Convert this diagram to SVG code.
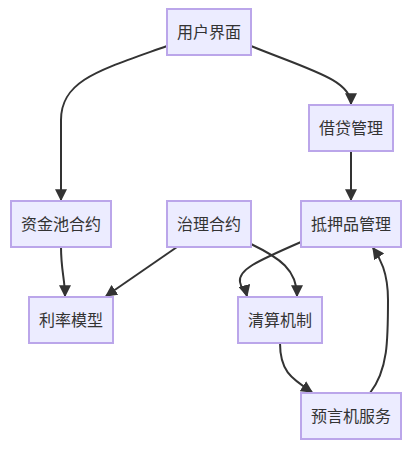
<svg xmlns="http://www.w3.org/2000/svg" width="413" height="458" viewBox="0 0 413 458">
<style>
.node rect{fill:#ECECFF;stroke:#BBA6EA;stroke-width:2}
.node text{font-family:"Liberation Sans","Noto Sans CJK SC",sans-serif;font-size:16px;fill:#333;text-anchor:middle;dominant-baseline:central}
.edges path{fill:none;stroke:#333;stroke-width:2}
</style>
<defs>
<marker id="arrow" viewBox="0 0 10 10" refX="9" refY="5" markerWidth="12" markerHeight="12" markerUnits="userSpaceOnUse" orient="auto">
<path d="M0,0 L10,5 L0,10 z" fill="#333"/>
</marker>
</defs>
<rect width="413" height="458" fill="#fff"/>
<g class="edges">
<path d="M167,46 C100,70 61,80 61,120 L61,200" marker-end="url(#arrow)"/>
<path d="M251,46 C310,70 351,80 351,104" marker-end="url(#arrow)"/>
<path d="M351,151 L351,200" marker-end="url(#arrow)"/>
<path d="M61,247 C61,270 65,280 65,296" marker-end="url(#arrow)"/>
<path d="M177,247 L106,296" marker-end="url(#arrow)"/>
<path d="M251,244 C280,258 297,270 297,296" marker-end="url(#arrow)"/>
<path d="M301,242 C255,262 238,270 240,282 C241,290 246,292 247,296" marker-end="url(#arrow)"/>
<path d="M280,343 C280,370 290,378 312,392" marker-end="url(#arrow)"/>
<path d="M370,393 C388,370 388,340 388,300 C388,272 380,258 373,248" marker-end="url(#arrow)"/>
</g>
<g id="n-ui" class="node"><rect x="167" y="9" width="84" height="46"/><text x="209" y="32">用户界面</text></g>
<g id="n-loan" class="node"><rect x="309" y="105" width="84" height="46"/><text x="351" y="128">借贷管理</text></g>
<g id="n-pool" class="node"><rect x="11" y="201" width="100" height="46"/><text x="61" y="224">资金池合约</text></g>
<g id="n-gov" class="node"><rect x="167" y="201" width="84" height="46"/><text x="209" y="224">治理合约</text></g>
<g id="n-coll" class="node"><rect x="301" y="201" width="100" height="46"/><text x="351" y="224">抵押品管理</text></g>
<g id="n-rate" class="node"><rect x="29" y="297" width="84" height="46"/><text x="71" y="320">利率模型</text></g>
<g id="n-liq" class="node"><rect x="238" y="297" width="84" height="46"/><text x="280" y="320">清算机制</text></g>
<g id="n-oracle" class="node"><rect x="301" y="393" width="100" height="46"/><text x="351" y="416">预言机服务</text></g>
</svg>
